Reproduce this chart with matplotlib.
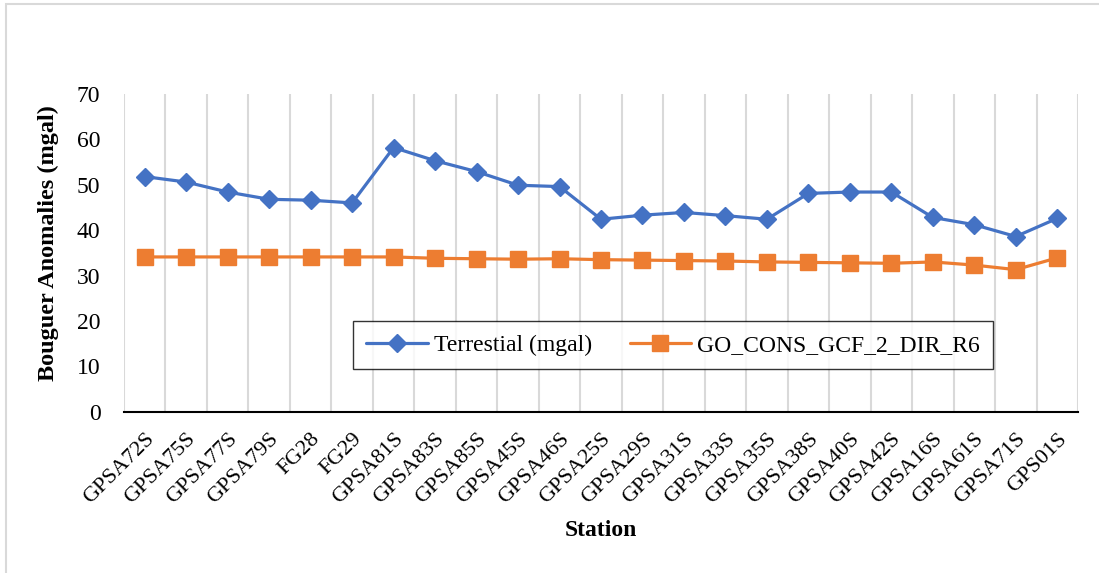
import matplotlib
matplotlib.use("Agg")
import matplotlib.pyplot as plt
from matplotlib.patches import Rectangle
from matplotlib.ticker import FixedLocator
import numpy as np

stations = ["GPSA72S", "GPSA75S", "GPSA77S", "GPSA79S", "FG28", "FG29",
            "GPSA81S", "GPSA83S", "GPSA85S", "GPSA45S", "GPSA46S", "GPSA25S",
            "GPSA29S", "GPSA31S", "GPSA33S", "GPSA35S", "GPSA38S", "GPSA40S",
            "GPSA42S", "GPSA16S", "GPSA61S", "GPSA71S", "GPS01S"]
terrestrial = [51.8, 50.6, 48.4, 46.8, 46.6, 46.0, 58.2, 55.3, 52.9, 49.9,
               49.6, 42.4, 43.3, 43.9, 43.2, 42.4, 48.1, 48.4, 48.4, 42.8,
               41.2, 38.6, 42.6]
go_cons = [34.1, 34.1, 34.1, 34.1, 34.1, 34.1, 34.1, 33.8, 33.7, 33.6,
           33.7, 33.5, 33.4, 33.3, 33.2, 33.0, 32.9, 32.8, 32.7, 33.0,
           32.3, 31.3, 33.9]
y_ticks = [0, 10, 20, 30, 40, 50, 60, 70]

FONT = "Liberation Serif"
BLUE = "#4472C4"
ORANGE = "#ED7D31"
GRID = "#d9d9d9"

fig = plt.figure(figsize=(10.99, 5.73), dpi=100)
ax = fig.add_axes([124 / 1099, 1 - 411.7 / 573, (1078 - 124) / 1099, (411.7 - 94) / 573])

x = np.arange(len(stations))
ax.plot(x, terrestrial, color=BLUE, lw=2.3, marker="D", ms=9,
        label="Terrestial (mgal)", solid_capstyle="round", zorder=3)
ax.plot(x, go_cons, color=ORANGE, lw=2.3, marker="s", ms=11,
        label="GO_CONS_GCF_2_DIR_R6", solid_capstyle="round", zorder=3)

ax.set_xlim(-0.5, len(stations) - 0.5)
ax.set_ylim(0, 70)

# category-boundary gridlines
ax.xaxis.set_minor_locator(FixedLocator(np.arange(-0.5, len(stations), 1.0)))
ax.grid(True, which="minor", axis="x", color=GRID, lw=1.5)
ax.tick_params(axis="x", which="minor", length=0)
ax.set_xticks(x)
ax.set_xticklabels(stations, rotation=45, ha="right", rotation_mode="anchor",
                   fontfamily=FONT, fontsize=16)
ax.tick_params(axis="x", which="major", length=0, pad=13)

ax.set_yticks(y_ticks)
ax.set_yticklabels([str(v) for v in y_ticks], fontfamily=FONT, fontsize=17)
ax.tick_params(axis="y", length=0, pad=17)

for side in ("left", "right", "top"):
    ax.spines[side].set_visible(False)
ax.spines["bottom"].set_color("#000000")
ax.spines["bottom"].set_linewidth(1.5)

ax.set_ylabel("Bouguer Anomalies (mgal)", fontfamily=FONT, fontsize=17.5,
              fontweight="bold")
ax.yaxis.set_label_coords(-0.068, 0.53)
fig.text(601 / 1099, 1 - 531 / 573, "Station", fontfamily=FONT, fontsize=17,
         fontweight="bold", ha="center", va="center")

leg = fig.legend(loc="center", bbox_to_anchor=(673 / 1099, 1 - 345 / 573),
                 ncol=2, frameon=True, fancybox=False, handlelength=2.6,
                 columnspacing=1.6, handletextpad=0.25, borderpad=0.55,
                 borderaxespad=0, prop={"family": FONT, "size": 17})
leg.get_frame().set_edgecolor("#000000")
leg.get_frame().set_linewidth(1.0)

# chart-area border
fig.add_artist(Rectangle((5.5 / 1099, -0.1), 1.2, 1.1 - 4.5 / 573,
                         transform=fig.transFigure, fill=False,
                         edgecolor=GRID, lw=1.5))

fig.savefig("out.png", dpi=100, facecolor="white")
